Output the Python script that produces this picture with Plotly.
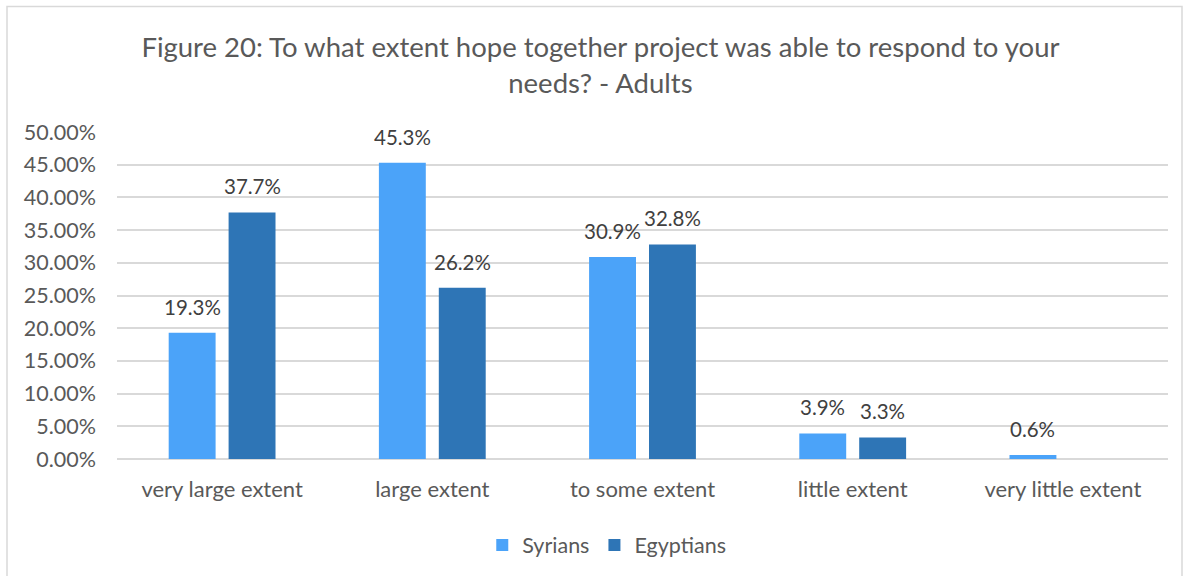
import plotly.graph_objects as go

categories = ["very large extent", "large extent", "to some extent", "little extent", "very little extent"]
syrians = [0.193, 0.453, 0.309, 0.039, 0.006]
egyptians = [0.377, 0.262, 0.328, 0.033, None]
series_names = ["Syrians", "Egyptians"]
y_ticks = [i * 0.05 for i in range(11)]

FONT = "Lato"
TEXT = "#595959"
COLORS = ["#4BA3F9", "#2E75B6"]

W, H = 1189, 576
L, R, T, B = 117, 21, 132, 116

fig = go.Figure()
for name, vals, col in zip(series_names, [syrians, egyptians], COLORS):
    fig.add_trace(go.Bar(x=categories, y=vals, name=name, marker=dict(color=col, line_width=0)))

# value labels above each bar
annotations = []
for vals, shift in [(syrians, -30), (egyptians, 30)]:
    for c, v in zip(categories, vals):
        if v is None:
            continue
        annotations.append(dict(
            x=c, y=v, xref="x", yref="y", text=f"{v*100:.1f}%", showarrow=False,
            xshift=shift, yshift=12, yanchor="bottom",
            font=dict(family=FONT, size=20.5, color="#404040")))

pw = W - L - R
ph = H - T - B
fig.update_layout(
    width=W, height=H,
    margin=dict(l=L, r=R, t=T, b=B),
    paper_bgcolor="white", plot_bgcolor="white",
    barmode="group", bargap=0.43, bargroupgap=0.217,
    title=dict(text="Figure 20: To what extent hope together project was able to respond to your<br>needs? - Adults",
               x=0.505, xanchor="center", y=1 - 57 / H, yanchor="middle",
               font=dict(family=FONT, size=27.5, color=TEXT)),
    font=dict(family=FONT, color=TEXT),
    xaxis=dict(showgrid=False, showline=False, ticks="", tickfont=dict(size=22, color=TEXT),
               ticklabelstandoff=15),
    yaxis=dict(range=[0, 0.5], tickvals=y_ticks, tickformat=".2%", showgrid=True,
               gridcolor="#D9D9D9", gridwidth=1.5, zeroline=True, zerolinecolor="#D9D9D9",
               zerolinewidth=1.5, tickfont=dict(size=21.5, color=TEXT), ticklabelstandoff=20),
    legend=dict(orientation="h", x=0.466, xanchor="center", y=(460 - 545) / ph, yanchor="middle",
                font=dict(size=21.5, color=TEXT), itemwidth=30, traceorder="normal"),
    annotations=annotations,
    shapes=[dict(type="rect", xref="paper", yref="paper",
                 x0=(7 - L) / pw, x1=(1182 - L) / pw, y0=(460 - 600) / ph, y1=(460 - 6) / ph,
                 line=dict(color="#D9D9D9", width=1.5), fillcolor="rgba(0,0,0,0)", layer="below")],
)

fig.write_html("out.html")
